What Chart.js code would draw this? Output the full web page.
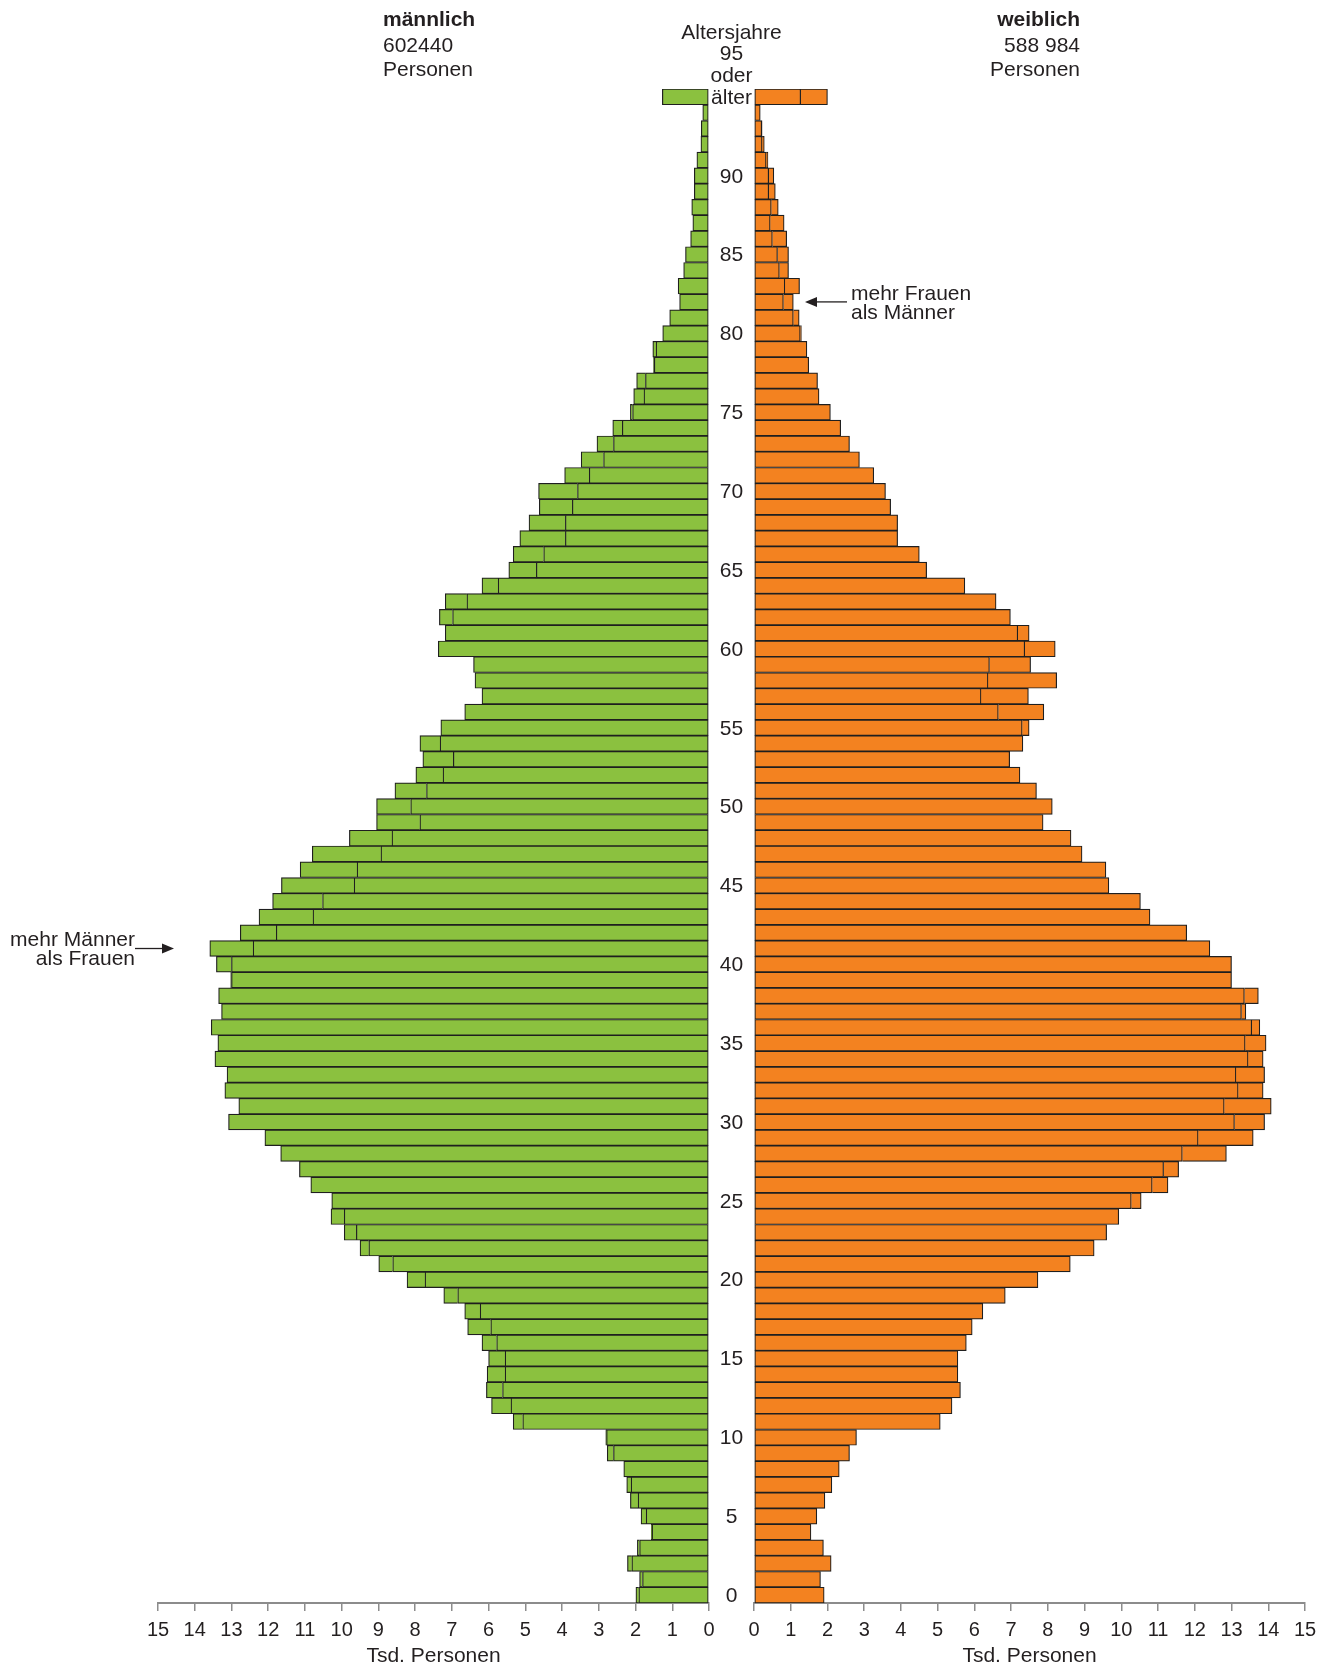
<!DOCTYPE html>
<html>
<head>
<meta charset="utf-8">
<script src="https://cdn.jsdelivr.net/npm/chart.js@4.4.1/dist/chart.umd.min.js"></script>
<style>
  html, body { margin: 0; padding: 0; background: #fff; }
  #wrap { position: relative; width: 1333px; height: 1671px; }
  canvas { position: absolute; left: 0; top: 0; }
</style>
</head>
<body>
<div id="wrap">
  <canvas id="maenner" width="1333" height="1671"></canvas>
  <canvas id="frauen" width="1333" height="1671"></canvas>
</div>
<script>
// Altersjahre 0 .. 94 und "95 oder älter"
const ages = [];
for (let a = 0; a <= 94; a++) ages.push(String(a));
ages.push('95+');

// Tsd. Personen, Alter 0 .. 95+
const male = [
  1.99, 1.89, 2.22, 1.95, 1.57, 1.85, 2.14, 2.24, 2.32, 2.77,
  2.81, 5.33, 5.92, 6.06, 6.04, 6.00, 6.18, 6.57, 6.65, 7.22,
  8.22, 8.99, 9.50, 9.93, 10.29, 10.27, 10.84, 11.15, 11.66, 12.09,
  13.08, 12.80, 13.18, 13.12, 13.45, 13.37, 13.55, 13.27, 13.35, 13.02,
  13.41, 13.59, 12.76, 12.25, 11.88, 11.64, 11.13, 10.80, 9.79, 9.05,
  9.05, 8.55, 7.98, 7.79, 7.87, 7.30, 6.65, 6.18, 6.37, 6.41,
  7.37, 7.18, 7.34, 7.18, 6.18, 5.45, 5.33, 5.15, 4.90, 4.62,
  4.64, 3.93, 3.48, 3.05, 2.62, 2.14, 2.05, 1.97, 1.51, 1.53,
  1.26, 1.07, 0.80, 0.84, 0.69, 0.64, 0.50, 0.44, 0.47, 0.40,
  0.40, 0.33, 0.22, 0.21, 0.17, 1.27
];
const female = [
  1.91, 1.81, 2.10, 1.89, 1.55, 1.71, 1.93, 2.12, 2.32, 2.60,
  2.79, 5.07, 5.39, 5.62, 5.55, 5.55, 5.78, 5.94, 6.23, 6.84,
  7.73, 8.61, 9.26, 9.60, 9.93, 10.54, 11.27, 11.56, 12.86, 13.59,
  13.90, 14.08, 13.86, 13.90, 13.86, 13.94, 13.77, 13.39, 13.73, 13.00,
  13.00, 12.41, 11.78, 10.78, 10.52, 9.66, 9.58, 8.93, 8.63, 7.87,
  8.12, 7.69, 7.24, 6.96, 7.32, 7.49, 7.89, 7.47, 8.24, 7.53,
  8.20, 7.49, 6.98, 6.59, 5.74, 4.70, 4.50, 3.91, 3.91, 3.72,
  3.58, 3.26, 2.87, 2.60, 2.36, 2.08, 1.77, 1.73, 1.49, 1.44,
  1.29, 1.23, 1.07, 1.24, 0.94, 0.94, 0.89, 0.82, 0.66, 0.58,
  0.54, 0.38, 0.28, 0.22, 0.17, 2.00
];
const maleTotal = '602440';
const femaleTotal = '588 984';

const font = "'Liberation Sans', Arial, Helvetica, sans-serif";
const ink = '#231f20';
const edge = '#1f1f1f';
const axisGrey = '#8c8c8c';

// common part drawn up to the smaller value, the rest beyond it
const common = male.map((v, i) => Math.min(v, female[i]));
const maleExtra = male.map((v, i) => Math.max(v - female[i], 0));
const femaleExtra = female.map((v, i) => Math.max(v - male[i], 0));

function pyramid(id, extra, fill, reverse, padLeft, padRight, plugins) {
  return new Chart(id, {
    type: 'bar',
    data: {
      labels: ages,
      datasets: [
        { data: common, backgroundColor: fill, borderColor: edge, borderWidth: 1.2, borderSkipped: false },
        { data: extra, backgroundColor: fill, borderColor: edge, borderWidth: 1.2, borderSkipped: 'start' }
      ]
    },
    options: {
      indexAxis: 'y',
      responsive: false,
      animation: false,
      events: [],
      layout: { padding: { left: padLeft, right: padRight, top: 89, bottom: 0 } },
      datasets: { bar: { barPercentage: 1, categoryPercentage: 1 } },
      plugins: { legend: { display: false }, tooltip: { enabled: false } },
      scales: {
        y: { type: 'category', reverse: true, stacked: true, display: false },
        x: {
          min: 0, max: 15, reverse: reverse, stacked: true,
          ticks: { stepSize: 1, autoSkip: false, maxRotation: 0, padding: 7,
                   color: ink, font: { size: 20, family: font } },
          grid: { drawOnChartArea: false, drawTicks: true, tickLength: 8,
                  color: axisGrey, lineWidth: 1.5 },
          border: { display: true, color: axisGrey, width: 2 },
          title: { display: true, text: 'Tsd. Personen', color: ink,
                   font: { size: 21, family: font }, padding: { top: 0, bottom: 2 } },
          afterFit(s) { s.height = 68; }
        }
      }
    },
    plugins: plugins || []
  });
}

function arrow(ctx, x1, x2, y) {
  // line from x1 to the head, filled head with tip at x2
  const dir = x2 > x1 ? 1 : -1;
  const headLen = 12;
  ctx.beginPath();
  ctx.moveTo(x1, y);
  ctx.lineTo(x2 - dir * headLen, y);
  ctx.lineWidth = 1.3;
  ctx.strokeStyle = ink;
  ctx.stroke();
  ctx.beginPath();
  ctx.moveTo(x2, y);
  ctx.lineTo(x2 - dir * headLen, y - 5);
  ctx.lineTo(x2 - dir * headLen, y + 5);
  ctx.closePath();
  ctx.fillStyle = ink;
  ctx.fill();
}

const texte = {
  id: 'texte',
  afterDraw(chart) {
    const ctx = chart.ctx;
    const yS = chart.scales.y;
    const mid = chart.chartArea.left - 22.5;
    ctx.save();
    ctx.fillStyle = ink;

    // age labels in the gap
    ctx.font = '21px ' + font;
    ctx.textAlign = 'center';
    ctx.textBaseline = 'middle';
    ages.forEach((a, i) => {
      if (i < 95 && i % 5 === 0) ctx.fillText(a, mid, yS.getPixelForValue(i) + 1);
    });

    ctx.textBaseline = 'alphabetic';
    ['Altersjahre', '95', 'oder', 'älter'].forEach((t, k) => {
      ctx.fillText(t, mid, 38.5 + k * 21.8);
    });

    // headers
    ctx.textAlign = 'left';
    ctx.font = 'bold 21px ' + font;
    ctx.fillText('männlich', 383, 26);
    ctx.font = '21px ' + font;
    ctx.fillText(maleTotal, 383, 51.5);
    ctx.fillText('Personen', 383, 76);
    ctx.textAlign = 'right';
    ctx.font = 'bold 21px ' + font;
    ctx.fillText('weiblich', 1080, 26);
    ctx.font = '21px ' + font;
    ctx.fillText(femaleTotal, 1080, 51.5);
    ctx.fillText('Personen', 1080, 76);

    // annotations
    const yF = yS.getPixelForValue(82);
    ctx.textAlign = 'left';
    ctx.fillText('mehr Frauen', 851, yF - 2);
    ctx.fillText('als Männer', 851, yF + 17.5);
    arrow(ctx, 847, 805, yF);

    const yM = yS.getPixelForValue(41);
    ctx.fillStyle = ink;
    ctx.textAlign = 'right';
    ctx.fillText('mehr Männer', 135, yM - 3);
    ctx.fillText('als Frauen', 135, yM + 16);
    arrow(ctx, 135, 174, yM);
    ctx.restore();
  }
};

pyramid('maenner', maleExtra, '#8bc13f', true, 158, 624);
pyramid('frauen', femaleExtra, '#f38220', false, 754, 28, [texte]);
</script>
</body>
</html>
